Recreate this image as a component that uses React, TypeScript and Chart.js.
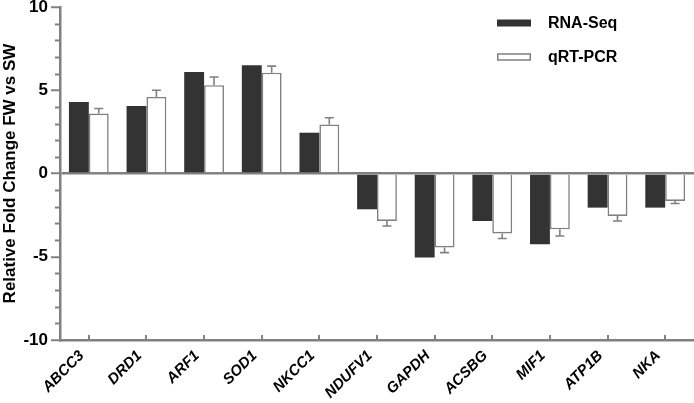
import { useEffect, useRef } from "react";
import { Chart, registerables } from "chart.js";

Chart.register(...registerables);

const genes = ["ABCC3", "DRD1", "ARF1", "SOD1", "NKCC1", "NDUFV1", "GAPDH", "ACSBG", "MIF1", "ATP1B", "NKA"];
const rnaSeq = [4.3, 4.05, 6.1, 6.5, 2.45, -2.15, -5.05, -2.85, -4.25, -2.05, -2.05];
const qrtPcr = [3.6, 4.6, 5.3, 6.05, 2.95, -2.85, -4.45, -3.6, -3.35, -2.55, -1.65];
const qrtPcrErr = [0.3, 0.4, 0.5, 0.4, 0.4, 0.3, 0.3, 0.3, 0.4, 0.3, 0.15];
const seriesNames = ["RNA-Seq", "qRT-PCR"];
const yTitle = "Relative Fold Change FW vs SW";
const yMin = -10;
const yMax = 10;
const yMajorStep = 5;
const yMinorStep = 1;

const GRAY = "#808080";
const DARK = "#333333";
const FONT = "'Liberation Sans', Arial, Helvetica, sans-serif";

const decorPlugin = {
  id: "decor",
  afterDatasetsDraw(chart: any) {
    const ctx = chart.ctx;
    const y = chart.scales.y;
    const meta = chart.getDatasetMeta(1);
    ctx.save();
    ctx.strokeStyle = GRAY;
    ctx.lineWidth = 1.6;
    meta.data.forEach((bar: any, i: number) => {
      const v = qrtPcr[i];
      const e = qrtPcrErr[i];
      const endV = v + Math.sign(v) * e;
      const y0 = y.getPixelForValue(v);
      const y1 = y.getPixelForValue(endV);
      ctx.beginPath();
      ctx.moveTo(bar.x, y0);
      ctx.lineTo(bar.x, y1);
      ctx.moveTo(bar.x - 4.5, y1);
      ctx.lineTo(bar.x + 4.5, y1);
      ctx.stroke();
    });
    ctx.restore();
  },
  afterDraw(chart: any) {
    const ctx = chart.ctx;
    const x = chart.scales.x;
    const y = chart.scales.y;
    const area = chart.chartArea;
    ctx.save();
    ctx.strokeStyle = GRAY;
    ctx.lineWidth = 2;
    // x ticks pointing inward
    genes.forEach((_, i) => {
      const px = Math.round(x.getPixelForTick(i));
      ctx.beginPath();
      ctx.moveTo(px, area.bottom);
      ctx.lineTo(px, area.bottom - 5);
      ctx.stroke();
    });
    // minor y ticks
    for (let v = yMin; v <= yMax; v += yMinorStep) {
      if (v % yMajorStep === 0) continue;
      const py = Math.round(y.getPixelForValue(v)) + 0.5;
      ctx.beginPath();
      ctx.moveTo(area.left, py);
      ctx.lineTo(area.left - 5, py);
      ctx.stroke();
    }
    // legend
    const lx = 497;
    const rows = [23, 57];
    ctx.font = `bold 16px ${FONT}`;
    ctx.textBaseline = "middle";
    ctx.fillStyle = "#000";
    seriesNames.forEach((name, i) => {
      const cy = rows[i];
      if (i === 0) {
        ctx.fillStyle = DARK;
        ctx.fillRect(lx, cy - 3.5, 34, 7);
      } else {
        ctx.fillStyle = "#fff";
        ctx.fillRect(lx, cy - 3, 34, 6);
        ctx.strokeStyle = GRAY;
        ctx.lineWidth = 1.5;
        ctx.strokeRect(lx + 0.75, cy - 3, 32.5, 6);
      }
      ctx.fillStyle = "#000";
      ctx.fillText(name, 548, cy + 1);
    });
    ctx.restore();
  },
};

export default function App() {
  const ref = useRef<HTMLCanvasElement>(null);
  useEffect(() => {
    if (!ref.current) return;
    const chart = new Chart(ref.current, {
      type: "bar",
      data: {
        labels: genes,
        datasets: [
          {
            label: seriesNames[0],
            data: rnaSeq,
            backgroundColor: DARK,
            borderWidth: 0,
            categoryPercentage: 0.69,
            barPercentage: 1,
          },
          {
            label: seriesNames[1],
            data: qrtPcr,
            backgroundColor: "#ffffff",
            borderColor: GRAY,
            borderWidth: 1.6,
            categoryPercentage: 0.69,
            barPercentage: 1,
          },
        ],
      },
      options: {
        responsive: false,
        animation: false,
        events: [],
        layout: { padding: { top: 7, right: 0, left: 0, bottom: 0 } },
        plugins: {
          legend: { display: false },
          tooltip: { enabled: false },
        },
        scales: {
          x: {
            type: "category",
            offset: true,
            grid: { display: false, drawTicks: false },
            border: { display: true, color: GRAY, width: 2.5 },
            ticks: {
              color: "#000",
              font: { family: FONT, size: 15, weight: "bold", style: "italic" },
              maxRotation: 45,
              minRotation: 45,
              padding: 7,
              labelOffset: -7,
              autoSkip: false,
            },
            afterFit(scale: any) {
              scale.height = 63;
              scale.paddingLeft = 0;
              scale.paddingRight = 0;
            },
          },
          y: {
            min: yMin,
            max: yMax,
            grid: {
              drawOnChartArea: true,
              color: (c: any) => (c.tick && c.tick.value === 0 ? GRAY : "rgba(0,0,0,0)"),
              lineWidth: 2.5,
              tickLength: 9,
              tickWidth: 2,
              tickColor: (c: any) => (c.tick && c.tick.value % yMajorStep === 0 ? GRAY : "rgba(0,0,0,0)"),
            },
            border: { display: true, color: GRAY, width: 2.5 },
            ticks: {
              stepSize: yMinorStep,
              autoSkip: false,
              color: "#000",
              padding: 3,
              font: { family: FONT, size: 17, weight: "bold" },
              callback: (v: any) => (Number(v) % yMajorStep === 0 ? String(v) : ""),
            },
            title: {
              display: true,
              text: yTitle,
              color: "#000",
              font: { family: FONT, size: 17, weight: "bold" },
              padding: { top: 0, bottom: 3 },
            },
            afterFit(scale: any) {
              scale.width = 60;
              scale.paddingTop = 0;
              scale.paddingBottom = 0;
            },
          },
        },
      },
      plugins: [decorPlugin],
    });
    return () => chart.destroy();
  }, []);
  return (
    <div style={{ position: "absolute", left: 0, top: 0, width: 694, height: 403, background: "#fff" }}>
      <canvas ref={ref} width={694} height={403} style={{ display: "block" }} />
    </div>
  );
}
